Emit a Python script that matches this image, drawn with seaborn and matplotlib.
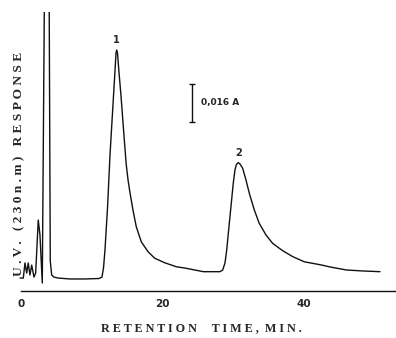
import numpy as np
import pandas as pd
import matplotlib
matplotlib.use("Agg")
import matplotlib.pyplot as plt
import seaborn as sns

# ---- data (retention time in min, absorbance in A) ----
time_min = [-0.14, 0.33, 0.57, 0.81, 1.03, 1.27, 1.52, 1.84, 2.08, 2.45, 2.69, 3.02,
            3.75, 4.15, 4.35, 4.67, 5.24, 6.94, 9.07, 11.05,
            11.47, 11.69, 11.90, 12.28, 12.61, 13.03, 13.34, 13.46, 13.56, 13.67,
            13.88, 14.16, 14.59, 14.90, 15.15, 15.40, 15.86, 16.33, 17.04, 17.99, 18.94,
            20.35, 22.00, 23.47, 25.82, 28.19, 28.57, 28.90, 29.14, 29.60, 30.07,
            30.31, 30.52, 30.78, 31.02, 31.40, 31.87, 32.34, 33.05, 33.75, 34.70,
            35.65, 37.07, 38.48, 40.13, 42.63, 43.77, 46.13, 48.44, 50.85]
response_A = [0.0055, 0.0055, 0.0119, 0.0076, 0.0119, 0.0068, 0.0110, 0.0059, 0.0076, 0.0301, 0.0238, 0.0034,
              0.3000, 0.0127, 0.0068, 0.0059, 0.0055, 0.0051, 0.0051, 0.0053,
              0.0059, 0.0098, 0.0174, 0.0365, 0.0577, 0.0789, 0.0946, 0.1010, 0.1023, 0.1010,
              0.0929, 0.0832, 0.0660, 0.0540, 0.0475, 0.0425, 0.0344, 0.0273, 0.0209, 0.0167, 0.0139,
              0.0120, 0.0103, 0.0096, 0.0082, 0.0082, 0.0089, 0.0119, 0.0174, 0.0315, 0.0457,
              0.0514, 0.0537, 0.0545, 0.0539, 0.0521, 0.0471, 0.0415, 0.0344, 0.0287, 0.0238,
              0.0202, 0.0171, 0.0146, 0.0124, 0.0110, 0.0102, 0.0089, 0.0085, 0.0082]
peak_labels = ["1", "2"]
peak_windows = [(10, 20), (28, 35)]
x_ticks = [0, 10, 20, 30, 40, 50]
x_tick_labels = ["0", "", "20", "", "40", ""]
scale_bar_A = 0.016
scale_bar_label = "0,016 A"
x_title = "R E T E N T I O N     T I M E ,  M I N ."
y_title = "U . V .   ( 2 3 0 n . m )   R E S P O N S E"

df = pd.DataFrame({"t": time_min, "A": response_A})

sns.set_style("white")
plt.rcParams["font.family"] = ["DejaVu Sans"]

fig = plt.figure(figsize=(3.96, 3.38), dpi=100)
ax = fig.add_axes([0.0, 47 / 338, 1.0, 279 / 338])

sns.lineplot(data=df, x="t", y="A", estimator=None, sort=False,
             color="#111111", linewidth=1.0, ax=ax)

ax.set_xlim(-2.97, 53.12)
ax.set_ylim(0, 0.1184)

# axis styling
for s in ["left", "top", "right"]:
    ax.spines[s].set_visible(False)
ax.spines["bottom"].set_bounds(0, 53.12)
ax.spines["bottom"].set_linewidth(1.0)
ax.spines["bottom"].set_color("#111111")
ax.set_yticks([])
ax.set_ylabel("")
ax.set_xticks(x_ticks)
ax.set_xticklabels(x_tick_labels, fontsize=7.5, fontweight="bold")
ax.tick_params(axis="x", direction="in", length=4, width=1.0, pad=6, color="#111111")

ax.set_xlabel(x_title, fontsize=8.7, fontweight="bold", family="Liberation Serif")
ax.xaxis.set_label_coords(0.508, -0.1326)
ax.xaxis.label.set_va("center")

fig.text(19 / 396, 1 - 164 / 338, y_title, rotation=90, ha="center", va="center",
         fontsize=9.6, fontweight="bold", family="Liberation Serif")

# peak labels
t_arr = np.array(time_min)
a_arr = np.array(response_A)
for lab, (lo, hi) in zip(peak_labels, peak_windows):
    m = (t_arr >= lo) & (t_arr <= hi)
    i = np.argmax(np.where(m, a_arr, -1))
    ax.annotate(lab, xy=(t_arr[i], a_arr[i]), xytext=(0, 3.5), textcoords="offset points",
                ha="center", va="bottom", fontsize=7, fontweight="bold")

# scale bar
bar_t = 24.27
bar_lo = 0.0718
ax.errorbar([bar_t], [bar_lo + scale_bar_A / 2], yerr=[scale_bar_A / 2], fmt="none",
            ecolor="#111111", elinewidth=1.0, capsize=2.3, capthick=1.0)
ax.text(25.5, bar_lo + scale_bar_A / 2, scale_bar_label, ha="left", va="center",
        fontsize=6.5, fontweight="bold")

fig.savefig("out.png", dpi=100)
